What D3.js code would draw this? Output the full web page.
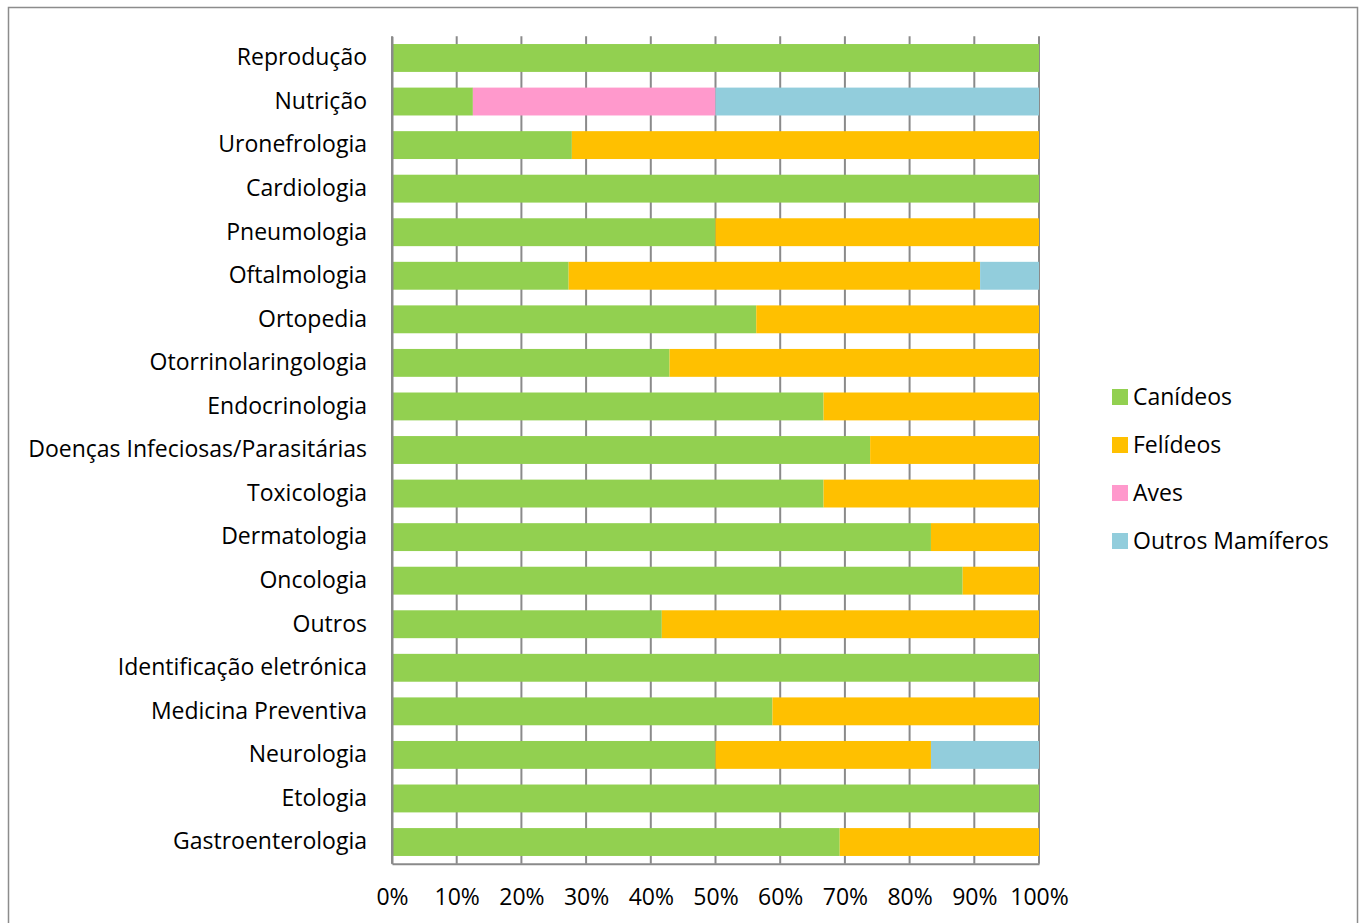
<!DOCTYPE html>
<html><head><meta charset="utf-8">
<script src="https://cdn.jsdelivr.net/npm/d3@7"></script>
<style>body{margin:0;background:#fff}svg{display:block}text{font-family:"Open Sans",sans-serif;fill:#000}</style>
</head><body>
<script>
const categories = ["Reprodução","Nutrição","Uronefrologia","Cardiologia","Pneumologia","Oftalmologia","Ortopedia","Otorrinolaringologia","Endocrinologia","Doenças Infeciosas/Parasitárias","Toxicologia","Dermatologia","Oncologia","Outros","Identificação eletrónica","Medicina Preventiva","Neurologia","Etologia","Gastroenterologia"];
const seriesNames = ["Canídeos","Felídeos","Aves","Outros Mamíferos"];
const canideos  = [100,12.5,27.8,100,50,27.3,56.3,42.9,66.7,73.9,66.7,83.3,88.2,41.7,100,58.8,50,100,69.2];
const felideos  = [0,0,72.2,0,50,63.6,43.7,57.1,33.3,26.1,33.3,16.7,11.8,58.3,0,41.2,33.3,0,30.8];
const aves      = [0,37.5,0,0,0,0,0,0,0,0,0,0,0,0,0,0,0,0,0];
const outrosMam = [0,50,0,0,0,9.1,0,0,0,0,0,0,0,0,0,0,16.7,0,0];
const tickValues = [0,0.1,0.2,0.3,0.4,0.5,0.6,0.7,0.8,0.9,1];
const colors = ["#92D050","#FFC000","#FF99CC","#92CDDC"];

const W=1364,H=923;
const svg=d3.select("body").append("svg").attr("width",W).attr("height",H);
svg.append("rect").attr("x",8.5).attr("y",7.5).attr("width",1349).attr("height",930).attr("fill","none").attr("stroke","#8c8c8c").attr("stroke-width",1.5);

const pL=392,pR=1039,pT=36.2,pB=863.8;
const rows=categories.map((c,i)=>({cat:c,v:[canideos[i],felideos[i],aves[i],outrosMam[i]]}));
rows.forEach(r=>{const t=d3.sum(r.v);let acc=0;r.seg=r.v.map((v,k)=>{const s={k,x0:acc/t,x1:(acc+v)/t};acc+=v;return s;});});

const x=d3.scaleLinear().domain([0,1]).range([pL,pR]);
const y=d3.scaleBand().domain(categories).range([pT,pB]).paddingInner(0.36).paddingOuter(0.18);

// gridlines
const g=svg.append("g");
g.selectAll("line.grid").data(tickValues).join("line").attr("class","grid")
 .attr("x1",d=>x(d)).attr("x2",d=>x(d)).attr("y1",pT).attr("y2",pB)
 .attr("stroke","#8a8a8a").attr("stroke-width",2);

// bars
const rg=svg.append("g").selectAll("g").data(rows).join("g");
rg.selectAll("rect").data(r=>r.seg.filter(s=>s.x1>s.x0).map(s=>({...s,cat:r.cat}))).join("rect")
 .attr("x",s=>x(s.x0)).attr("width",s=>x(s.x1)-x(s.x0))
 .attr("y",s=>y(s.cat)).attr("height",y.bandwidth())
 .attr("fill",s=>colors[s.k]);

// axes
const xa=svg.append("g").attr("transform",`translate(0,${pB})`)
 .call(d3.axisBottom(x).tickValues(tickValues).tickFormat(d3.format(".0%")).tickSize(0).tickPadding(25));
xa.select(".domain").attr("stroke","#8a8a8a").attr("stroke-width",2);
xa.selectAll("text").style("font-size","23px").attr("dy","0.72em");

const ya=svg.append("g").attr("transform",`translate(${pL},0)`)
 .call(d3.axisLeft(y).tickSize(0).tickPadding(25));
ya.select(".domain").attr("stroke","#8a8a8a").attr("stroke-width",2);
ya.selectAll("text").style("font-size","23px");

// legend
const lg=svg.append("g").selectAll("g").data(seriesNames).join("g")
 .attr("transform",(d,i)=>`translate(1112,${397+i*48})`);
lg.append("rect").attr("x",0).attr("y",-8).attr("width",16).attr("height",16).attr("fill",(d,i)=>colors[i]);
lg.append("text").attr("x",21).attr("dy","0.35em").style("font-size","23px").text(d=>d);
</script>
</body></html>
